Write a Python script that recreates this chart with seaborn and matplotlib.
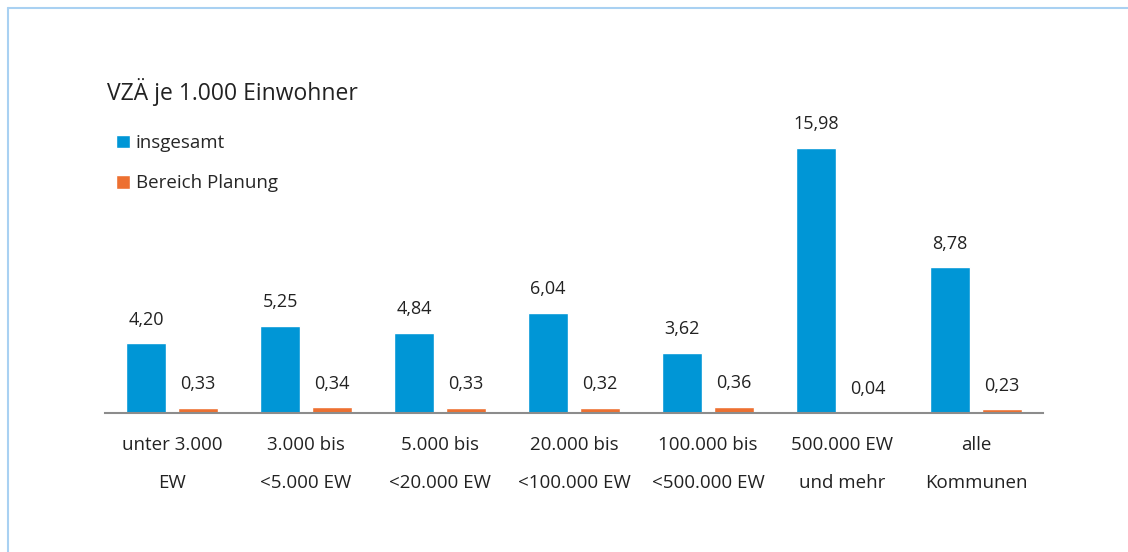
import pandas as pd
import matplotlib.pyplot as plt
import seaborn as sns
from matplotlib.lines import Line2D

# Daten
kategorien = ['unter 3.000\nEW', '3.000 bis\n<5.000 EW', '5.000 bis\n<20.000 EW',
              '20.000 bis\n<100.000 EW', '100.000 bis\n<500.000 EW', '500.000 EW\nund mehr',
              'alle\nKommunen']
insgesamt = [4.20, 5.25, 4.84, 6.04, 3.62, 15.98, 8.78]
planung = [0.33, 0.34, 0.33, 0.32, 0.36, 0.04, 0.23]
reihen = ['insgesamt', 'Bereich Planung']
farben = ['#0096d6', '#ed7031']

df = pd.DataFrame({'Kategorie': kategorien, 'insgesamt': insgesamt, 'Bereich Planung': planung})
df = df.melt(id_vars='Kategorie', var_name='Reihe', value_name='Wert')

sns.set_style('white')
plt.rcParams['font.family'] = ['Open Sans', 'DejaVu Sans']

fig = plt.figure(figsize=(11.28, 5.52), dpi=100)
ax = fig.add_axes([105 / 1128, 1 - 413 / 552, 938 / 1128, 16 * 16.6 / 552])

sns.barplot(data=df, x='Kategorie', y='Wert', hue='Reihe', hue_order=reihen,
            palette=farben, saturation=1, width=0.776, gap=0.227, ax=ax)

ax.set_xlim(-0.5, len(kategorien) - 0.5)
ax.set_ylim(0, 16)
ax.set_xlabel('')
ax.set_ylabel('')
ax.set_yticks([])
for s in ['top', 'right', 'left']:
    ax.spines[s].set_visible(False)
ax.spines['bottom'].set_color('#8c8c8c')
ax.spines['bottom'].set_linewidth(1.5)
ax.tick_params(axis='x', length=0, pad=16.5, labelsize=13.5, labelcolor='#222222')
for lbl in ax.get_xticklabels():
    lbl.set_linespacing(2.45)

# Werte über den Balken
for cont, werte in zip(ax.containers, [insgesamt, planung]):
    ax.bar_label(cont, labels=[f'{v:.2f}'.replace('.', ',') for v in werte],
                 padding=10.5, fontsize=13, color='#222222')

ax.legend(loc='upper left', bbox_to_anchor=(116 / 1128, 1 - 134 / 552),
          bbox_transform=fig.transFigure, frameon=False, fontsize=13.5,
          handlelength=0.75, handleheight=0.75, handletextpad=0.3,
          labelspacing=1.2, borderpad=0, borderaxespad=0)

fig.text(107 / 1128, 1 - 92 / 552, 'VZÄ je 1.000 Einwohner', fontsize=16.5,
         va='center', ha='left', color='#222222')

# heller Rahmen oben und links
rahmen = '#a9d1f2'
fig.add_artist(Line2D([8 / 1128, 1], [1 - 8 / 552, 1 - 8 / 552], color=rahmen, lw=1.5,
                      transform=fig.transFigure))
fig.add_artist(Line2D([8 / 1128, 8 / 1128], [0, 1 - 8 / 552], color=rahmen, lw=1.5,
                      transform=fig.transFigure))

fig.savefig('out.png', dpi=100)
